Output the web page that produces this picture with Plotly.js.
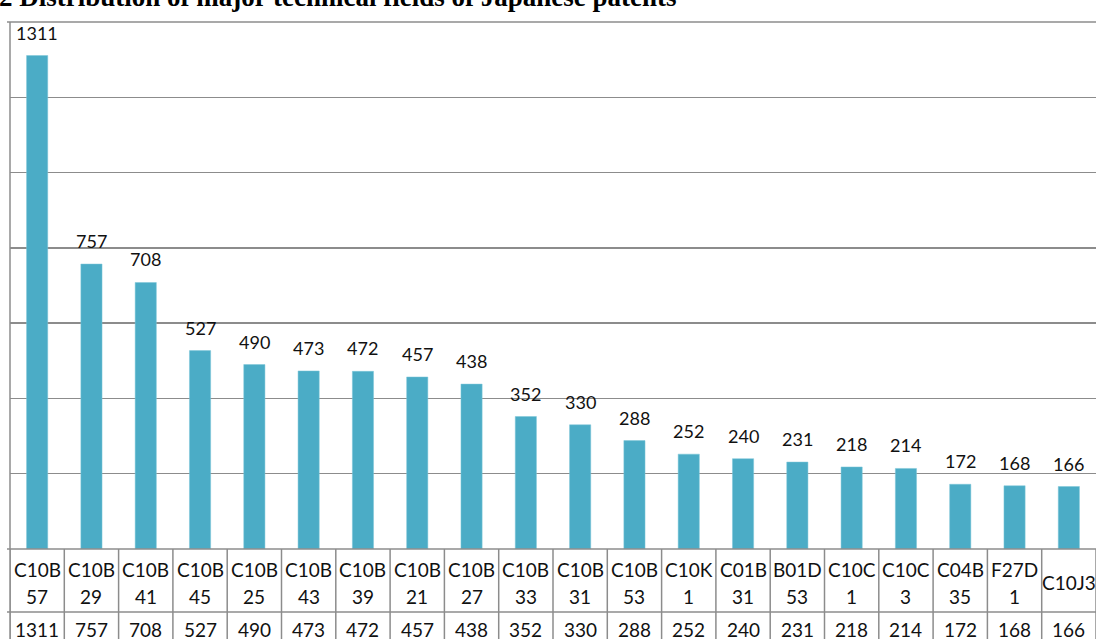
<!DOCTYPE html>
<html>
<head>
<meta charset="utf-8">
<script src="https://cdn.plot.ly/plotly-3.0.1.min.js"></script>
<style>html,body{margin:0;padding:0;background:#fff;}#chart{width:1102px;height:639px;}</style>
</head>
<body>
<div id="chart"></div>
<script>
const titleText = "2 Distribution of major technical fields of Japanese patents";
const categories = ["C10B 57","C10B 29","C10B 41","C10B 45","C10B 25","C10B 43","C10B 39","C10B 21","C10B 27","C10B 33","C10B 31","C10B 53","C10K 1","C01B 31","B01D 53","C10C 1","C10C 3","C04B 35","F27D 1","C10J3"];
const values = [1311,757,708,527,490,473,472,457,438,352,330,288,252,240,231,218,214,172,168,166];
const yTicks = [0,200,400,600,800,1000,1200,1400];

const W = 1102, H = 639;
const M = {l:10, r:6, t:22, b:90};
const PH = H - M.t - M.b; // 527
const px = v => -v / PH; // pixels below plot bottom -> paper y
const lineCol = '#8c8c8c';
const lblFont = {family: 'Lato, "Open Sans", sans-serif', size: 18, color: '#111'};
const tblFont = {family: 'Lato, "Open Sans", sans-serif', size: 19, color: '#111'};

const shapes = [];
// left axis line down through table
shapes.push({type:'line', xref:'paper', yref:'paper', x0:0, x1:0, y0:1, y1:px(M.b), line:{color:lineCol, width:1.5}});
// top line
shapes.push({type:'line', xref:'paper', yref:'paper', x0:-3/1086, x1:1, y0:1, y1:1, line:{color:lineCol, width:1.5}});
// table vertical lines
for (let i = 0; i <= categories.length; i++) {
  shapes.push({type:'line', xref:'x', yref:'paper', x0:i-0.5, x1:i-0.5, y0:0, y1:px(M.b), line:{color:lineCol, width:1.5}});
}
// table horizontal lines
shapes.push({type:'line', xref:'paper', yref:'paper', x0:-3/1086, x1:1, y0:0, y1:0, line:{color:lineCol, width:1.5}});
shapes.push({type:'line', xref:'paper', yref:'paper', x0:-3/1086, x1:1, y0:px(63), y1:px(63), line:{color:lineCol, width:1.5}});

const annotations = [];
// title
annotations.push({text:'<b>'+titleText+'</b>', xref:'paper', yref:'paper', x:-13/1086, y:1+(22+3)/PH, xanchor:'left', yanchor:'middle', showarrow:false,
  font:{family:'"Liberation Serif", "Times New Roman", serif', size:27, color:'#000'}});
categories.forEach((c, i) => {
  // value label above bar
  annotations.push({text:String(values[i]), x:c, y:values[i], xref:'x', yref:'y', xanchor:'center', yanchor:'bottom', yshift:10, showarrow:false, font:lblFont});
  const parts = c.split(' ');
  if (parts.length > 1) {
    annotations.push({text:parts[0], x:c, xref:'x', yref:'paper', y:px(20), yanchor:'middle', showarrow:false, font:tblFont});
    annotations.push({text:parts[1], x:c, xref:'x', yref:'paper', y:px(47), yanchor:'middle', showarrow:false, font:tblFont});
  } else {
    annotations.push({text:c, x:c, xref:'x', yref:'paper', y:px(33), yanchor:'middle', showarrow:false, font:tblFont});
  }
  annotations.push({text:String(values[i]), x:c, xref:'x', yref:'paper', y:px(80), yanchor:'middle', showarrow:false, font:tblFont});
});

const trace = {type:'bar', x:categories, y:values, marker:{color:'#4BACC6', line:{color:'#7cc6d8', width:0.5}}, hoverinfo:'x+y'};

const layout = {
  width:W, height:H,
  margin:{l:M.l, r:M.r, t:M.t, b:M.b, pad:0},
  paper_bgcolor:'#fff', plot_bgcolor:'#fff',
  showlegend:false,
  bargap:0.61,
  xaxis:{type:'category', showticklabels:false, ticks:'', showgrid:false, zeroline:false, showline:false, range:[-0.5, categories.length-0.5], fixedrange:true},
  yaxis:{range:[0,1400], tickvals:yTicks, showticklabels:false, ticks:'', showgrid:true, gridcolor:lineCol, gridwidth:1.5, zeroline:false, showline:false, fixedrange:true},
  shapes:shapes,
  annotations:annotations
};

Plotly.newPlot('chart', [trace], layout, {displayModeBar:false, staticPlot:true});
</script>
</body>
</html>
